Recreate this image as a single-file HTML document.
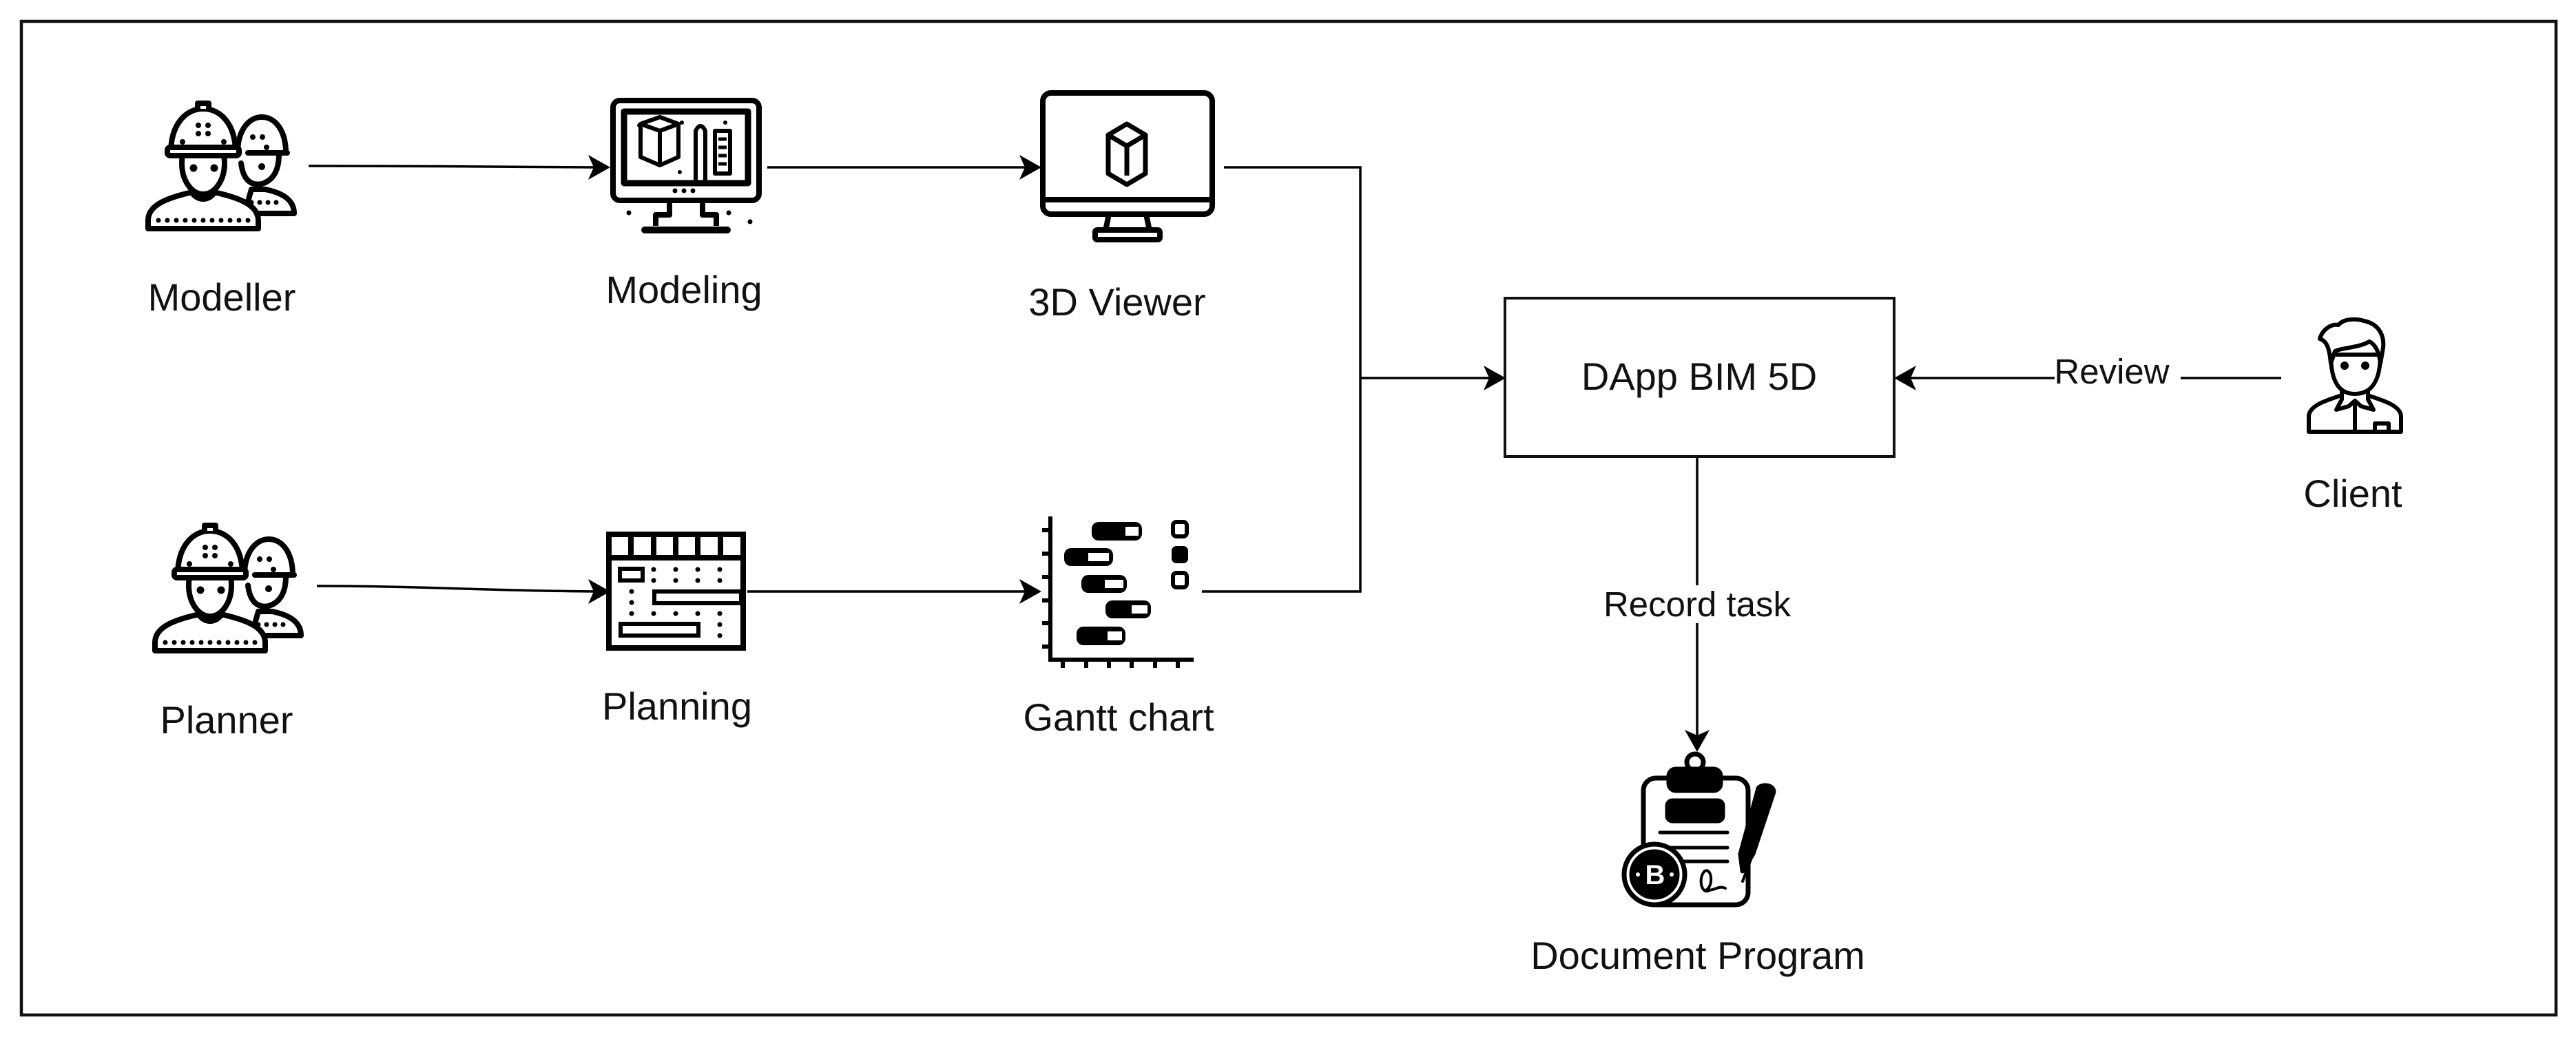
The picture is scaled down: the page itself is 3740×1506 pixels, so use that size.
<!DOCTYPE html>
<html><head><meta charset="utf-8"><style>
html,body{margin:0;padding:0;background:#fff}
svg{display:block}
text{font-family:"Liberation Sans",Arial,sans-serif;fill:#111}
</style></head><body>
<svg width="3740" height="1506" viewBox="0 0 3740 1506" xmlns="http://www.w3.org/2000/svg">
<defs>
<g id="worker" stroke="#000" stroke-width="8" fill="#fff" stroke-linejoin="round" stroke-linecap="round">
  <path d="M150 168 L222 168 C222 148 205 138 180 133 L160 133 Z"/>
  <path d="M145 95 C148 120 160 128 175 125 C192 120 200 105 200 82"/>
  <path d="M140 80 C140 45 158 28 175 28 C195 28 210 48 210 80"/>
  <line x1="155" y1="80" x2="212" y2="80"/>
  <g fill="#000" stroke="none"><circle cx="162" cy="57" r="4"/><circle cx="176" cy="57" r="4"/><circle cx="182" cy="72" r="4"/><circle cx="175" cy="100" r="5"/>
  <circle cx="160" cy="152" r="3.5"/><circle cx="172" cy="152" r="3.5"/><circle cx="184" cy="152" r="3.5"/><circle cx="196" cy="152" r="3.5"/></g>
  <path d="M10 190 L10 178 C10 155 40 145 70 138 L110 138 C140 145 170 155 170 178 L170 190 Z"/>
  <path d="M74 118 L74 138 C82 150 98 150 106 138 L106 118"/>
  <ellipse cx="90" cy="95" rx="31" ry="45"/>
  <path d="M43 80 C43 38 65 16 90 16 C115 16 137 38 137 80 Z"/>
  <rect x="38" y="72" width="104" height="12" rx="4"/>
  <path d="M82 16 L82 8 L98 8 L98 16"/>
  <g fill="#000" stroke="none">
   <circle cx="83" cy="40" r="4"/><circle cx="97" cy="40" r="4"/><circle cx="83" cy="52" r="4"/><circle cx="97" cy="52" r="4"/>
   <circle cx="60" cy="64" r="4"/><circle cx="120" cy="64" r="4"/>
   <circle cx="76" cy="102" r="5.5"/><circle cx="106" cy="102" r="5.5"/>
   <circle cx="25" cy="178" r="3.5"/><circle cx="38" cy="178" r="3.5"/><circle cx="51" cy="178" r="3.5"/><circle cx="64" cy="178" r="3.5"/><circle cx="77" cy="178" r="3.5"/><circle cx="90" cy="178" r="3.5"/><circle cx="103" cy="178" r="3.5"/><circle cx="116" cy="178" r="3.5"/><circle cx="129" cy="178" r="3.5"/><circle cx="142" cy="178" r="3.5"/><circle cx="155" cy="178" r="3.5"/>
  </g>
</g>
</defs>

<rect x="31" y="31" width="3680" height="1443" fill="none" stroke="#111" stroke-width="4.5"/>

<use href="#worker" transform="translate(205,142)"/>
<use href="#worker" transform="translate(215,755)"/>

<!-- Modeling monitor -->
<g stroke="#000" stroke-width="8" fill="none" stroke-linejoin="round">
 <rect x="890" y="146" width="212" height="145" rx="10"/>
 <rect x="906" y="162" width="180" height="104" stroke-width="9"/>
 <path d="M930 180 L958 170 L985 180 L985 228 L958 240 L930 228 Z M930 180 L958 190 L985 180 M958 190 L958 240" stroke-width="6"/>
 <path d="M1010 263 L1010 190 Q1017 176 1024 190 L1024 263" stroke-width="6"/>
 <rect x="1038" y="190" width="22" height="62" stroke-width="6"/>
 <path d="M1043 202 H1055 M1043 214 H1055 M1043 226 H1055 M1043 238 H1055" stroke-width="5"/>
 <path d="M972 292 L972 312 L952 312 L952 328 M1020 292 L1020 312 L1040 312 L1040 328"/>
 <line x1="936" y1="334" x2="1056" y2="334" stroke-width="10" stroke-linecap="round"/>
</g>
<g fill="#000"><circle cx="980" cy="277" r="3.5"/><circle cx="993" cy="277" r="3.5"/><circle cx="1006" cy="277" r="3.5"/>
<circle cx="913" cy="309" r="3.5"/><circle cx="1058" cy="309" r="3.5"/><circle cx="1089" cy="322" r="3.5"/>
<circle cx="928" cy="182" r="3"/><circle cx="990" cy="178" r="3"/><circle cx="1053" cy="178" r="3"/><circle cx="987" cy="250" r="3"/></g>

<!-- 3D viewer -->
<g stroke="#000" stroke-width="8" fill="none" stroke-linejoin="round">
 <rect x="1514" y="135" width="246" height="176" rx="12"/>
 <line x1="1514" y1="290" x2="1760" y2="290"/>
 <path d="M1610 311 L1605 335 M1664 311 L1669 335"/>
 <rect x="1590" y="334" width="94" height="14" rx="3"/>
 <path d="M1636 180 L1663 196 L1663 252 L1636 268 L1609 252 L1609 196 Z M1609 196 L1636 212 L1663 196 M1636 212 L1636 255" stroke-width="7"/>
</g>

<!-- Planning -->
<g stroke="#000" stroke-width="8" fill="none">
 <rect x="884" y="776" width="195" height="165"/>
 <line x1="884" y1="810" x2="1079" y2="810" stroke-width="8"/>
 <path d="M916 776 V810 M949 776 V810 M981 776 V810 M1013 776 V810 M1046 776 V810"/>
 <rect x="900" y="826" width="33" height="17" stroke-width="6"/>
 <rect x="950" y="859" width="126" height="17" stroke-width="6"/>
 <rect x="901" y="906" width="113" height="17" stroke-width="6"/>
</g>
<g fill="#000">
 <circle cx="949" cy="827" r="3.5"/><circle cx="981" cy="827" r="3.5"/><circle cx="1013" cy="827" r="3.5"/><circle cx="1045" cy="827" r="3.5"/>
 <circle cx="949" cy="843" r="3.5"/><circle cx="981" cy="843" r="3.5"/><circle cx="1013" cy="843" r="3.5"/><circle cx="1045" cy="843" r="3.5"/>
 <circle cx="917" cy="859" r="3.5"/><circle cx="917" cy="875" r="3.5"/>
 <circle cx="917" cy="891" r="3.5"/><circle cx="949" cy="891" r="3.5"/><circle cx="981" cy="891" r="3.5"/><circle cx="1013" cy="891" r="3.5"/><circle cx="1045" cy="891" r="3.5"/>
 <circle cx="1045" cy="907" r="3.5"/><circle cx="1045" cy="923" r="3.5"/>
</g>

<!-- Gantt -->
<g stroke="#000" stroke-width="6" fill="none">
 <path d="M1525 750 L1525 958 L1733 958"/>
 <path d="M1513 770 H1525 M1513 804 H1525 M1513 838 H1525 M1513 872 H1525 M1513 905 H1525 M1513 939 H1525"/>
 <path d="M1543 958 V970 M1577 958 V970 M1610 958 V970 M1643 958 V970 M1677 958 V970 M1710 958 V970"/>
</g>
<g fill="#000">
 <rect x="1585" y="758" width="73" height="27" rx="10"/>
 <rect x="1545" y="796" width="71" height="26" rx="10"/>
 <rect x="1570" y="835" width="66" height="26" rx="10"/>
 <rect x="1605" y="872" width="66" height="26" rx="10"/>
 <rect x="1563" y="910" width="71" height="27" rx="10"/>
 <rect x="1701" y="793" width="24" height="25" rx="7"/>
</g>
<g fill="#fff">
 <rect x="1634" y="765" width="19" height="13"/>
 <rect x="1580" y="803" width="30" height="12"/>
 <rect x="1604" y="842" width="27" height="12"/>
 <rect x="1643" y="879" width="23" height="12"/>
 <rect x="1608" y="917" width="21" height="13"/>
</g>
<g fill="#fff" stroke="#000" stroke-width="6">
 <rect x="1703" y="758" width="20" height="21" rx="5"/>
 <rect x="1703" y="832" width="20" height="21" rx="5"/>
</g>

<!-- connectors -->
<g stroke="#000" stroke-width="3.5" fill="none">
 <path d="M448 241 C600 241 700 242 866 243"/>
 <path d="M1114 243 L1490 243"/>
 <path d="M460 851 C620 851 700 858 866 859"/>
 <path d="M1085 859 L1490 859"/>
 <path d="M1777 243 L1975 243 L1975 859 L1745 859"/>
 <path d="M1975 549 L2165 549"/>
 <path d="M3312 549 L3166 549 M2983 549 L2766 549"/>
 <path d="M2464 663 L2464 850 M2464 905 L2464 1070"/>
</g>
<g fill="#000">
 <path d="M886 243 L854 225 L862 243 L854 261 Z"/>
 <path d="M1512 243 L1480 225 L1488 243 L1480 261 Z"/>
 <path d="M886 859 L854 841 L862 859 L854 877 Z"/>
 <path d="M1512 859 L1480 841 L1488 859 L1480 877 Z"/>
 <path d="M2186 549 L2154 531 L2162 549 L2154 567 Z"/>
 <path d="M2750 549 L2782 531 L2774 549 L2782 567 Z"/>
 <path d="M2464 1092 L2446 1060 L2464 1068 L2482 1060 Z"/>
</g>

<!-- DApp box -->
<rect x="2185" y="433" width="565" height="230" fill="#fff" stroke="#111" stroke-width="4"/>
<text x="2467" y="566" font-size="56" text-anchor="middle">DApp BIM 5D</text>

<!-- Client -->
<g stroke="#000" stroke-width="6" fill="#fff" stroke-linejoin="round" stroke-linecap="round">
 <path d="M3352 627 L3352 605 C3352 590 3375 582 3397 575 L3440 575 C3462 582 3486 590 3486 605 L3486 627 Z"/>
 <path d="M3400 565 L3400 580 L3392 595 L3410 590 L3419 582 L3428 590 L3446 595 L3438 580 L3438 565"/>
 <path d="M3419 582 L3419 627"/>
 <rect x="3448" y="615" width="20" height="12" fill="none"/>
 <path d="M3384 515 C3384 560 3400 572 3419 572 C3438 572 3456 560 3456 515 Z"/>
 <path d="M3384 528 C3382 505 3378 495 3368 492 C3372 478 3385 470 3395 472 C3402 463 3420 462 3432 466 C3452 470 3462 485 3460 505 L3456 528 C3454 510 3448 500 3440 496 C3425 505 3400 505 3390 510 Z"/>
 <circle cx="3404" cy="531" r="3" fill="#000"/><circle cx="3434" cy="531" r="3" fill="#000"/>
</g>

<!-- Document program -->
<g stroke="#000" stroke-width="7" fill="#fff" stroke-linejoin="round" stroke-linecap="round">
 <circle cx="2461" cy="1107" r="12"/>
 <rect x="2386" y="1130" width="152" height="184" rx="18"/>
 <rect x="2423" y="1117" width="75" height="31" rx="10" fill="#000"/>
 <rect x="2421" y="1163" width="80" height="29" rx="7" fill="#000"/>
 <path d="M2410 1209 H2508 M2410 1231 H2508 M2410 1251 H2508" stroke-width="5"/>
 <path d="M2482 1293 C2470 1300 2465 1275 2475 1265 C2485 1260 2488 1285 2478 1292 C2488 1295 2495 1285 2505 1290" fill="none" stroke-width="4"/>
 <circle cx="2402" cy="1270" r="44"/>
 <circle cx="2402" cy="1270" r="33" fill="#000"/>
 <path d="M2575 1150 L2545 1240 L2530 1265 L2527 1240 L2553 1145 C2558 1138 2575 1140 2575 1150 Z" fill="#000"/>
 <path d="M2545 1240 L2530 1280" stroke-width="4"/>
</g>
<text x="2403" y="1284" font-size="40" font-weight="bold" text-anchor="middle" style="fill:#fff">B</text>
<g fill="#fff"><circle cx="2378" cy="1270" r="3"/><circle cx="2427" cy="1270" r="3"/></g>

<!-- labels -->
<g font-size="56" text-anchor="middle">
 <text x="322" y="451">Modeller</text>
 <text x="993" y="440">Modeling</text>
 <text x="1622" y="458">3D Viewer</text>
 <text x="329" y="1065">Planner</text>
 <text x="983" y="1045">Planning</text>
 <text x="1624" y="1061">Gantt chart</text>
 <text x="3416" y="736">Client</text>
 <text x="2465" y="1407">Document Program</text>
</g>
<g font-size="51" text-anchor="middle">
 <text x="3066" y="557">Review</text>
 <text x="2464" y="895">Record task</text>
</g>
</svg>
</body></html>
